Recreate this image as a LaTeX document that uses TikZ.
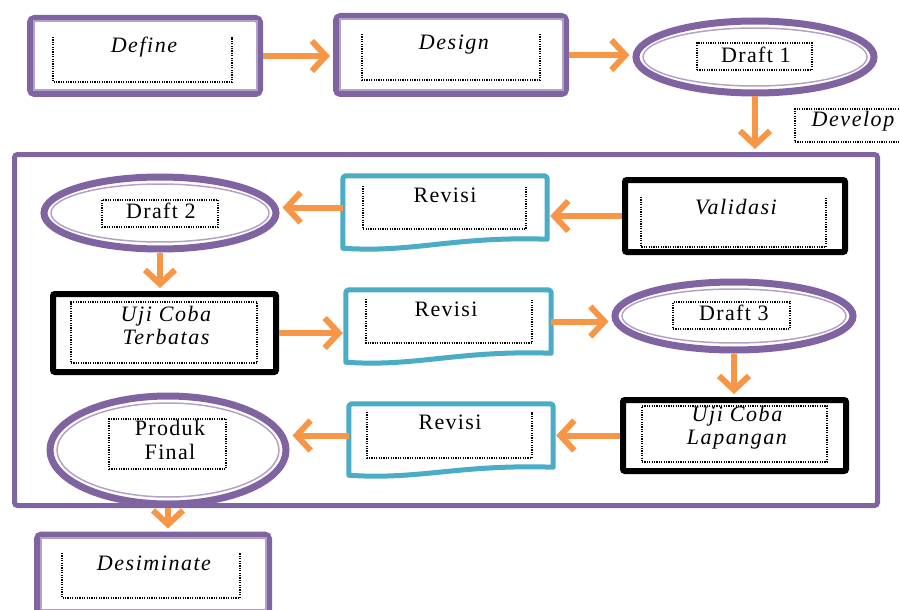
\documentclass[tikz,border=0pt]{standalone}
\usepackage{fontspec}
\setmainfont{Liberation Serif}
\usetikzlibrary{arrows.meta,shapes.geometric,calc}
\definecolor{pur}{HTML}{8064A2}
\definecolor{purl}{HTML}{B3A2C7}
\definecolor{tl}{HTML}{4BACC6}
\definecolor{org}{HTML}{F79646}
\newcommand\purinner[1]{\draw[purl, line width=2pt] ($(#1.north west)+(6.5,6.5)$) rectangle ($(#1.south east)+(-6.5,-6.5)$);}
\begin{document}
\begin{tikzpicture}[x=1pt,y=-1pt,
 pbox/.style={draw=pur, line width=7pt, rounded corners=4pt, rectangle, inner sep=0pt, fill=white},
 bbox/.style={draw=black, line width=6pt, rounded corners=2pt, rectangle, inner sep=0pt, fill=white},
 pell/.style={draw=pur, line width=7pt, ellipse, inner sep=0pt, fill=white},
 ghost/.style={rectangle, inner sep=0pt, draw=none},
 dotl/.style={draw=black, line width=1.2pt, dash pattern=on 1.2pt off 1.2pt},
 itxt/.style={font=\fontsize{22}{23}\selectfont\itshape\addfontfeature{LetterSpace=7}, inner sep=0pt, align=center},
 utxt/.style={font=\fontsize{22}{24}\selectfont\addfontfeature{LetterSpace=6}, inner sep=0pt, align=center},
 tealline/.style={draw=tl, line width=5pt, line join=round, fill=white},
 arr/.style={draw=org, line width=6pt, -{Straight Barb[length=14pt,width=30pt]}, shorten >=3pt},
]
\useasboundingbox (0,0) rectangle (900,610);
\clip (0,0) rectangle (900,610);
\fill[white] (0,0) rectangle (900,610);

% big frame
\node[draw=pur, line width=5pt, rounded corners=3pt, rectangle, minimum width=863pt, minimum height=351pt, inner sep=0pt] (frame) at (446,330) {};

% Define
\node[pbox, minimum width=229pt, minimum height=75pt] (def) at (145,56) {};
\purinner{def}
\draw[dotl] (53,37) -- (53,82) -- (232,82) -- (232,37);
\node[itxt] (tdef) at (144,47) {Define};

% Design
\node[pbox, minimum width=229pt, minimum height=77pt] (des) at (451,55) {};
\purinner{des}
\draw[dotl] (362,34) -- (362,80) -- (540,80) -- (540,34);
\node[itxt] (tdes) at (454,45) {Design};

% Draft 1
\node[pell, minimum width=238pt, minimum height=72pt] (d1) at (755,57) {};
\draw[purl, line width=1.5pt] (d1.center) ellipse [x radius=112pt, y radius=29pt];
\node[dotl, minimum width=115pt, minimum height=27pt, inner sep=0pt] (d1b) at (754.5,56.5) {};
\node[utxt] (td1) at (756,55) {Draft 1};

% Develop
\node[dotl, minimum width=111pt, minimum height=33pt, inner sep=0pt] (dev) at (850.5,125.5) {};
\node[itxt] (tdev) at (853,121) {Develop};

% Draft 2
\node[pell, minimum width=232pt, minimum height=72pt] (d2) at (160,213) {};
\draw[purl, line width=1.5pt] (d2.center) ellipse [x radius=109pt, y radius=29pt];
\node[dotl, minimum width=116pt, minimum height=27pt, inner sep=0pt] (d2b) at (160,213.5) {};
\node[utxt] (td2) at (161,211) {Draft 2};

% Revisi 1
\node[ghost, minimum width=204pt, minimum height=63pt] (r1) at (445,207.5) {};
\draw[tealline] (r1.south east) [rounded corners=3pt] -- (r1.north east) -- (r1.north west) [sharp corners] -- ($(r1.south west)+(0,9)$)
  .. controls ($(r1.south west)+(70,14)$) and ($(r1.south east)+(-95,-3)$) .. (r1.south east) -- cycle;
\draw[dotl] (363,186) -- (363,229) -- (526,229) -- (526,186);
\node[utxt] (tr1) at (445,195) {Revisi};

% Validasi
\node[bbox, minimum width=220pt, minimum height=72pt] (val) at (735,216) {};
\draw[dotl] (641,197) -- (641,247) -- (826,247) -- (826,197);
\node[itxt] (tval) at (736,207) {Validasi};

% Uji Coba Terbatas
\node[bbox, minimum width=223pt, minimum height=78pt] (terb) at (164.5,333) {};
\node[dotl, minimum width=186pt, minimum height=61pt, inner sep=0pt] (terbb) at (164,332.5) {};
\node[itxt] (tterb) at (166,325) {Uji Coba\\Terbatas};

% Revisi 2
\node[ghost, minimum width=205pt, minimum height=63pt] (r2) at (448.5,321.5) {};
\draw[tealline] (r2.south east) [rounded corners=3pt] -- (r2.north east) -- (r2.north west) [sharp corners] -- ($(r2.south west)+(0,9)$)
  .. controls ($(r2.south west)+(70,14)$) and ($(r2.south east)+(-95,-3)$) .. (r2.south east) -- cycle;
\draw[dotl] (366,299) -- (366,343) -- (532,343) -- (532,299);
\node[utxt] (tr2) at (446,309) {Revisi};

% Draft 3
\node[pell, minimum width=238pt, minimum height=68pt] (d3) at (734,316) {};
\draw[purl, line width=1.5pt] (d3.center) ellipse [x radius=112pt, y radius=27pt];
\node[dotl, minimum width=117pt, minimum height=27pt, inner sep=0pt] (d3b) at (731.5,315.5) {};
\node[utxt] (td3) at (734,313) {Draft 3};

% Uji Coba Lapangan
\node[bbox, minimum width=223pt, minimum height=71pt] (lap) at (734.5,435.5) {};
\node[dotl, minimum width=185pt, minimum height=56pt, inner sep=0pt] (lapb) at (734.5,434) {};
\node[itxt] (tlap) at (737,428) {Uji Coba\\Lapangan};

% Revisi 3
\node[ghost, minimum width=204pt, minimum height=63pt] (r3) at (451,435.5) {};
\draw[tealline] (r3.south east) [rounded corners=3pt] -- (r3.north east) -- (r3.north west) [sharp corners] -- ($(r3.south west)+(0,8)$)
  .. controls ($(r3.south west)+(70,13)$) and ($(r3.south east)+(-95,-3)$) .. (r3.south east) -- cycle;
\draw[dotl] (367,412) -- (367,458) -- (532,458) -- (532,412);
\node[utxt] (tr3) at (450,422) {Revisi};

% Produk Final
\node[pell, minimum width=236pt, minimum height=108pt] (pf) at (168,450) {};
\draw[purl, line width=1.5pt] (pf.center) ellipse [x radius=111pt, y radius=47pt];
\node[dotl, minimum width=117pt, minimum height=50pt, inner sep=0pt] (pfb) at (167.5,444) {};
\node[utxt] (tpf) at (170,440) {Produk\\Final};

% Desiminate
\node[pbox, minimum width=231pt, minimum height=78pt] (dsm) at (153,574) {};
\purinner{dsm}
\draw[dotl] (62,553) -- (62,598) -- (240,598) -- (240,553);
\node[itxt] (tdsm) at (154,563) {Desiminate};

% arrows
\draw[arr] (def.east) -- (def.east -| des.west);
\draw[arr] (des.east) -- (des.east -| d1.west);
\draw[arr] (d1.south) -- (d1.south |- frame.north);
\draw[arr] (val.west) -- (val.west -| r1.east);
\draw[arr] (r1.west) -- (r1.west -| d2.east);
\draw[arr] (d2.south) -- (d2.south |- terb.north);
\draw[arr] (terb.east) -- (terb.east -| r2.west);
\draw[arr] (r2.east) -- (r2.east -| d3.west);
\draw[arr] (d3.south) -- (d3.south |- lap.north);
\draw[arr] (lap.west) -- (lap.west -| r3.east);
\draw[arr] (r3.west) -- (r3.west -| pf.east);
\draw[arr] (pf.south) -- (pf.south |- dsm.north);
\end{tikzpicture}
\end{document}
